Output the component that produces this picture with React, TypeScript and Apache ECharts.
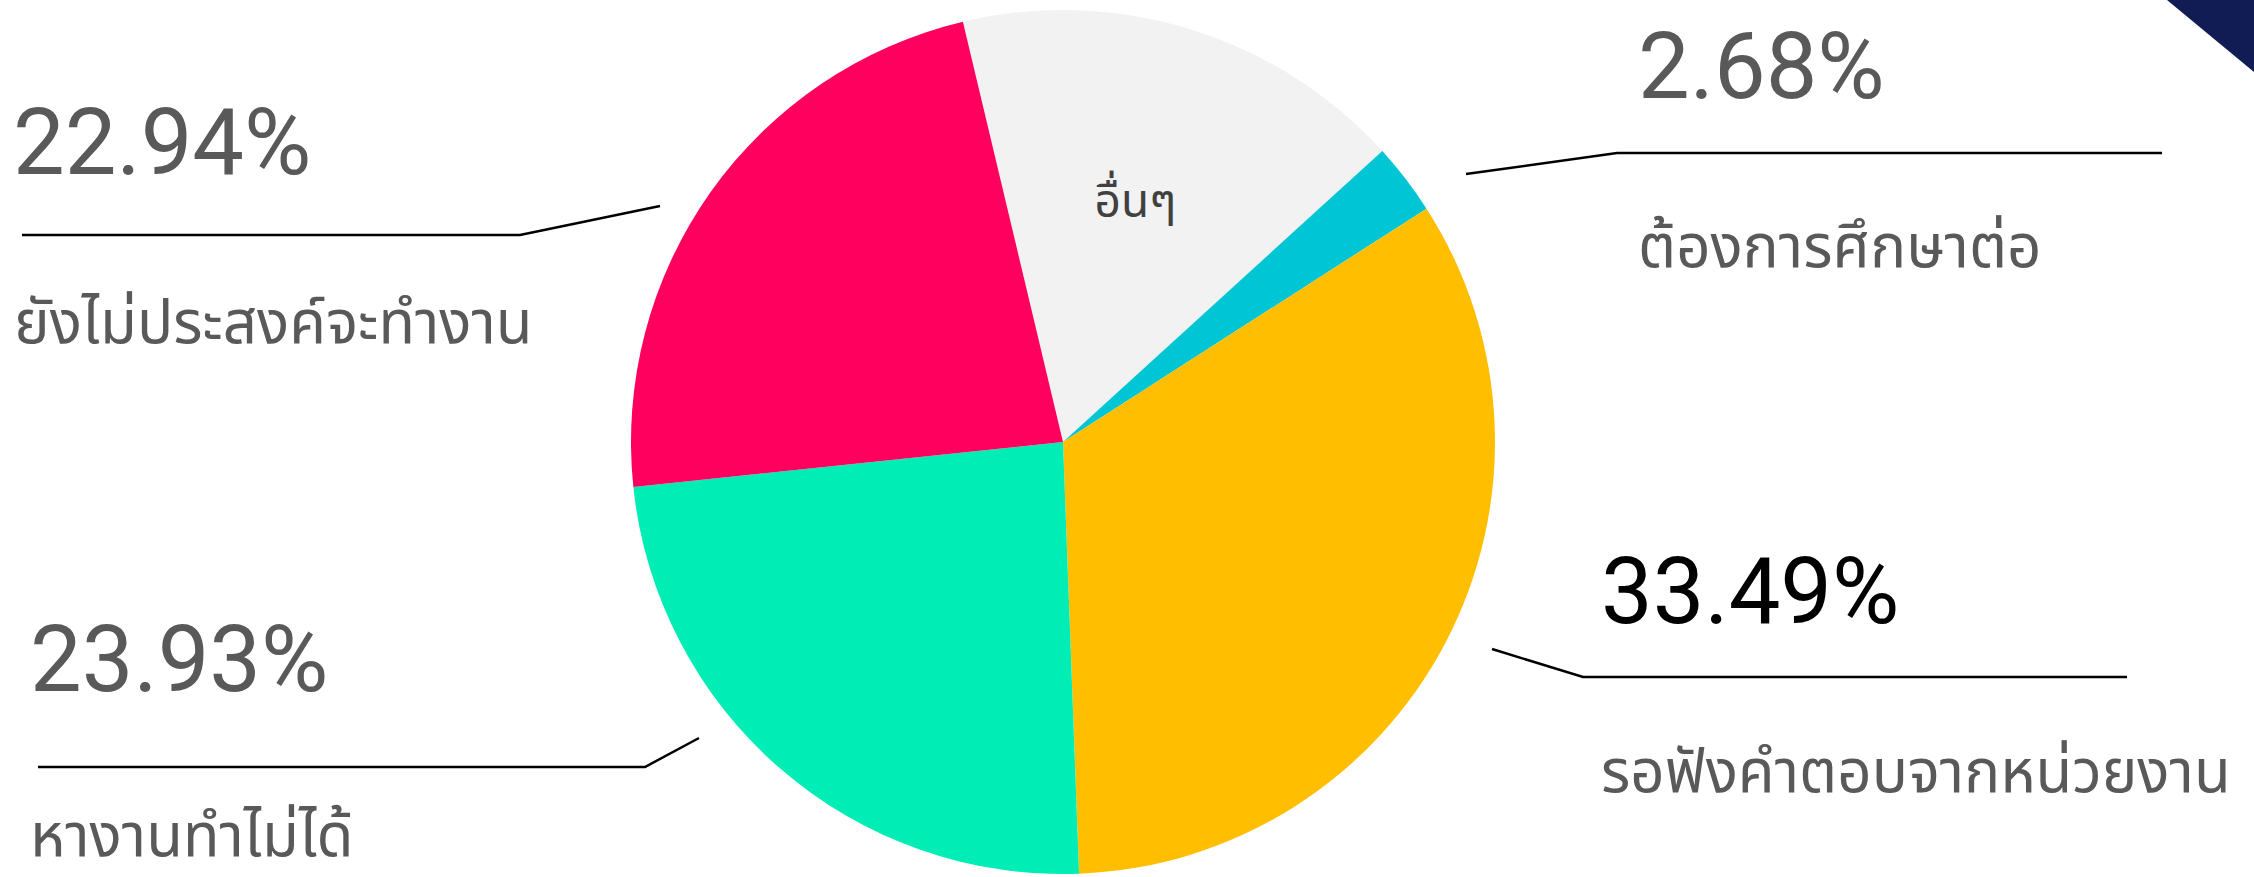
import React, { useEffect, useRef } from "react";
import * as echarts from "echarts";

const categories = [
  "อื่นๆ",
  "ต้องการศึกษาต่อ",
  "รอฟังคำตอบจากหน่วยงาน",
  "หางานทำไม่ได้",
  "ยังไม่ประสงค์จะทำงาน",
];
const values = [16.96, 2.68, 33.49, 23.93, 22.94];
const sliceColors = ["#F2F2F2", "#00C5D5", "#FFBF00", "#00EDB5", "#FF005E"];

// Layout of the outside callouts (index into categories/values)
const callouts = [
  { idx: 1, pct: [1638, 66], name: [1638, 248], line: [[1466, 174], [1617, 153], [2162, 153]], pctColor: "#595959" },
  { idx: 2, pct: [1601, 591], name: [1601, 773], line: [[1492, 649], [1583, 677], [2127, 677]], pctColor: "#000000" },
  { idx: 3, pct: [30, 659], name: [30, 837], line: [[699, 738], [645, 767], [38, 767]], pctColor: "#595959" },
  { idx: 4, pct: [13, 142], name: [14, 324], line: [[660, 206], [520, 235], [22, 235]], pctColor: "#595959" },
];

const THAI = "'Noto Sans Thai', 'Noto Sans Thai UI', 'Noto Sans', sans-serif";

export default function App() {
  const ref = useRef<HTMLDivElement>(null);
  useEffect(() => {
    document.body.style.margin = "0";
    if (!ref.current) return;
    const chart = echarts.init(ref.current, null, { renderer: "svg" });
    const graphics: any[] = [
      {
        type: "polygon",
        shape: { points: [[2167, 0], [2254, 0], [2254, 72]] },
        style: { fill: "#111B54" },
      },
    ];
    callouts.forEach((c) => {
      graphics.push({
        type: "polyline",
        shape: { points: c.line },
        style: { stroke: "#000", lineWidth: 2.5, fill: null },
      });
      graphics.push({
        type: "text",
        x: c.pct[0],
        y: c.pct[1],
        style: {
          text: values[c.idx].toFixed(2) + "%",
          fontFamily: "Roboto",
          fontSize: 92,
          fill: c.pctColor,
          align: "left",
          verticalAlign: "middle",
        },
      });
      graphics.push({
        type: "text",
        x: c.name[0],
        y: c.name[1],
        style: {
          text: categories[c.idx],
          fontFamily: THAI,
          fontSize: 60,
          lineHeight: 60,
          fill: "#595959",
          align: "left",
          verticalAlign: "middle",
        },
      });
    });
    chart.setOption({
      animation: false,
      graphic: graphics,
      series: [
        {
          type: "pie",
          center: [1063, 442],
          radius: 432,
          startAngle: 103.4,
          clockwise: true,
          avoidLabelOverlap: false,
          itemStyle: { borderWidth: 0 },
          emphasis: { disabled: true },
          data: categories.map((name, i) => ({
            name,
            value: values[i],
            itemStyle: { color: sliceColors[i] },
            label:
              i === 0
                ? {
                    show: true,
                    position: "inside",
                    formatter: "{b}",
                    fontFamily: THAI,
                    fontSize: 46,
                    color: "#404040",
                    offset: [8, -30],
                  }
                : { show: false },
            labelLine: { show: false },
          })),
        },
      ],
    });
    return () => chart.dispose();
  }, []);
  return <div ref={ref} style={{ width: 2254, height: 877 }} />;
}
